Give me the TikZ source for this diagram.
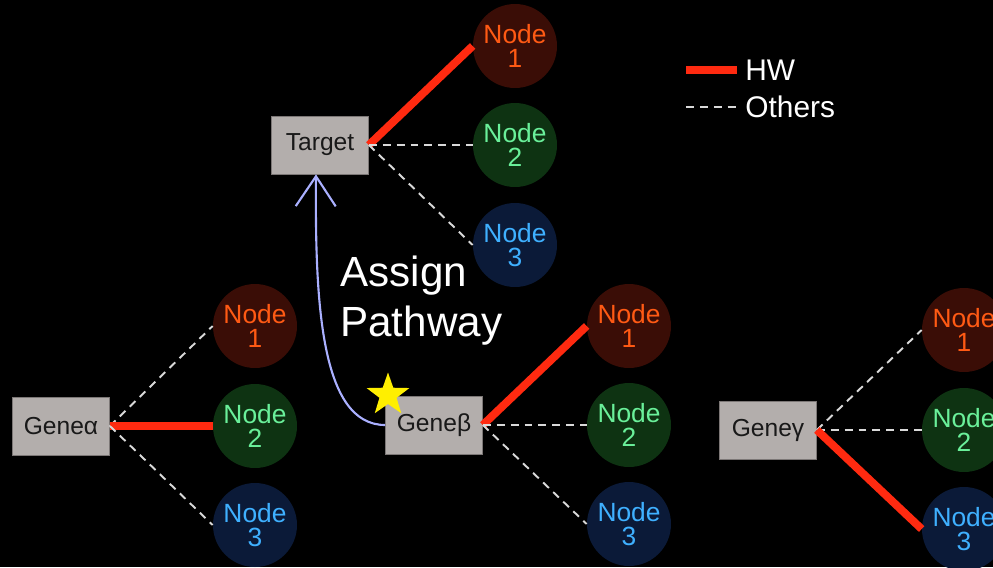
\documentclass[tikz,border=0pt]{standalone}
\usepackage{fontspec}
\setmainfont{Liberation Sans}
\usepackage{tikz}
\usetikzlibrary{arrows.meta,calc,positioning,shapes.geometric}
\definecolor{boxgray}{HTML}{B3AEAC}
\definecolor{boxline}{HTML}{7C7776}
\definecolor{hwred}{HTML}{FF2A10}
\definecolor{redfill}{HTML}{3A0D06}
\definecolor{redtext}{HTML}{FF5A14}
\definecolor{greenfill}{HTML}{0E3312}
\definecolor{greentext}{HTML}{6AF09A}
\definecolor{bluefill}{HTML}{0B1A38}
\definecolor{bluetext}{HTML}{3FB0FF}
\definecolor{pathblue}{HTML}{AAB0FF}
\definecolor{staryellow}{HTML}{FFEF00}

\begin{document}
\begin{tikzpicture}[
  gene/.style={draw=boxline,fill=boxgray,minimum width=1.94cm,minimum height=1.16cm,inner sep=0pt,text=black!90,font=\fontsize{14}{16}\selectfont},
  nd/.style={circle,minimum size=1.68cm,inner sep=0pt,align=center,font=\fontsize{15}{14}\selectfont},
  nd1/.style={nd,fill=redfill,text=redtext},
  nd2/.style={nd,fill=greenfill,text=greentext},
  nd3/.style={nd,fill=bluefill,text=bluetext},
  hw/.style={hwred,line width=4.5pt},
  others/.style={white!85!black,line width=1.1pt,dash pattern=on 4.5pt off 3.4pt}]
\fill[black] (0,0) rectangle (19.86,-11.34);
\clip (0,0) rectangle (19.86,-11.34);
\node[gene] (T) at (6.40,-2.90) {Target};
\node[nd1] (T1) at (10.30,-0.92) {Node\\1};
\node[nd2] (T2) at (10.30,-2.90) {Node\\2};
\node[nd3] (T3) at (10.30,-4.90) {Node\\3};
\draw[hw] (T.east) -- (T1.west);
\draw[others] (T.east) -- (T2.west);
\draw[others] (T.east) -- (T3.west);
\node[gene] (Ga) at (1.22,-8.52) {Geneα};
\node[nd1] (Ga1) at (5.10,-6.52) {Node\\1};
\node[nd2] (Ga2) at (5.10,-8.52) {Node\\2};
\node[nd3] (Ga3) at (5.10,-10.50) {Node\\3};
\draw[others] (Ga.east) -- (Ga1.west);
\draw[hw] (Ga.east) -- (Ga2.west);
\draw[others] (Ga.east) -- (Ga3.west);
\node[gene] (Gb) at (8.68,-8.50) {Geneβ};
\node[nd1] (Gb1) at (12.58,-6.52) {Node\\1};
\node[nd2] (Gb2) at (12.58,-8.50) {Node\\2};
\node[nd3] (Gb3) at (12.58,-10.48) {Node\\3};
\draw[hw] (Gb.east) -- (Gb1.west);
\draw[others] (Gb.east) -- (Gb2.west);
\draw[others] (Gb.east) -- (Gb3.west);
\node[gene] (Gg) at (15.36,-8.60) {Geneγ};
\node[nd1] (Gg1) at (19.28,-6.60) {Node\\1};
\node[nd2] (Gg2) at (19.28,-8.60) {Node\\2};
\node[nd3] (Gg3) at (19.28,-10.58) {Node\\3};
\draw[others] (Gg.east) -- (Gg1.west);
\draw[others] (Gg.east) -- (Gg2.west);
\draw[hw] (Gg.east) -- (Gg3.west);
\draw[pathblue,line width=1.2pt,-{Straight Barb[length=0.6cm,width=0.8cm,line width=1.2pt]}] (Gb.west) .. controls (6.4,-8.50) and (6.3,-6.0) .. ([xshift=-0.08cm]T.south);
\node[star,star points=5,star point ratio=2.5,fill=staryellow,minimum size=0.9cm,inner sep=0pt] (S) at (7.76,-7.90) {};
\node[anchor=north west,inner sep=0pt,align=left,text=white,font=\fontsize{24}{28}\selectfont] (P) at (6.80,-5.12) {Assign\\Pathway};
\coordinate (hw1) at (13.72,-1.40);
\coordinate (hw2) at (14.74,-1.40);
\coordinate (ot1) at (13.72,-2.14);
\coordinate (ot2) at (14.74,-2.14);
\draw[hw] (hw1) -- (hw2);
\draw[others] (ot1) -- (ot2);
\node[right=0.16cm of hw2,inner sep=0pt,text=white,font=\fontsize{17}{20}\selectfont] (L1) {HW};
\node[right=0.16cm of ot2,inner sep=0pt,text=white,font=\fontsize{17}{20}\selectfont] (L2) {Others};
\end{tikzpicture}
\end{document}
